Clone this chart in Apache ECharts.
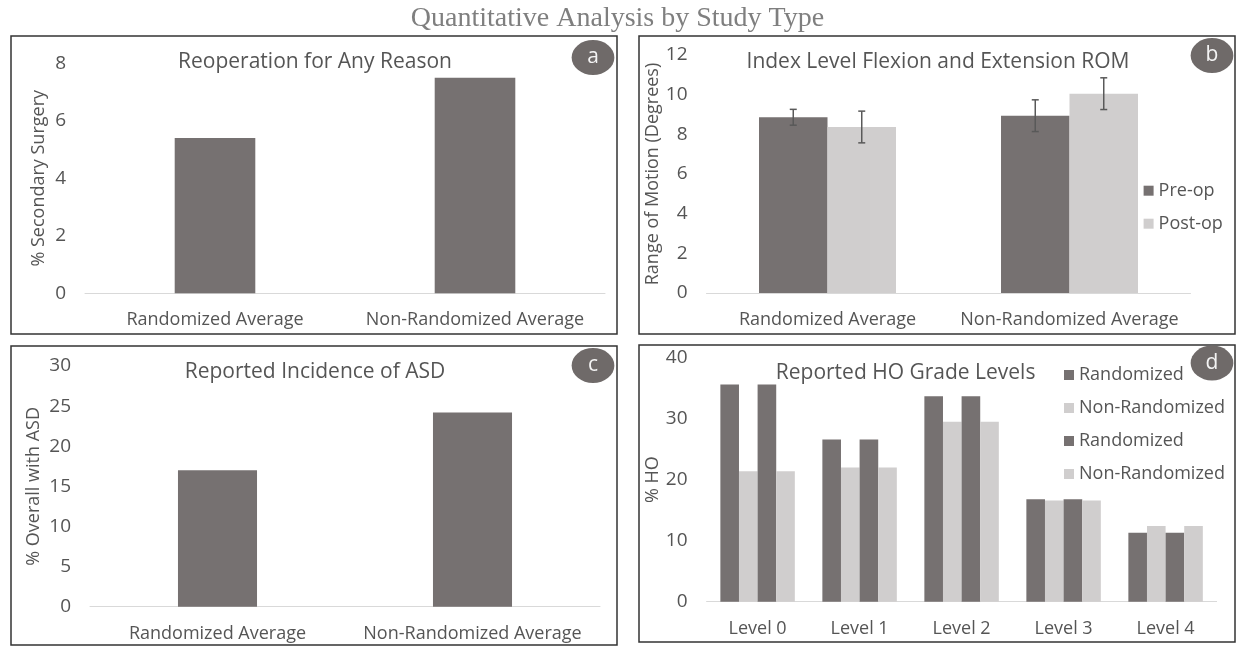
<!DOCTYPE html>
<html>
<head>
<meta charset="utf-8">
<script src="https://cdn.jsdelivr.net/npm/echarts@6/dist/echarts.min.js"></script>
<style>
  html, body { margin: 0; padding: 0; background: #fff; }
  #chart { width: 1236px; height: 646px; }
</style>
</head>
<body>
<div id="chart"></div>
<script>
// ---- data ----
const studyGroups = ['Randomized Average', 'Non-Randomized Average'];
const reoperationPct = [5.4, 7.5];            // % secondary surgery
const romPreOp = [8.86, 8.94];                // degrees
const romPostOp = [8.37, 10.05];
const romPreOpErr = [0.4, 0.8];
const romPostOpErr = [0.8, 0.8];
const asdPct = [17.0, 24.2];                  // % overall with ASD
const hoLevels = ['Level 0', 'Level 1', 'Level 2', 'Level 3', 'Level 4'];
const hoRandomized = [35.6, 26.6, 33.7, 16.8, 11.3];
const hoNonRandomized = [21.4, 22.0, 29.5, 16.6, 12.4];
const yTicks = [
  { max: 8, interval: 2 },
  { max: 12, interval: 2 },
  { max: 30, interval: 5 },
  { max: 40, interval: 10 }
];

// ---- styling ----
const FONT = '"Open Sans", sans-serif';
const TEXT = '#555555';
const DARK = '#767171';
const LIGHT = '#d0cece';
const BADGE = '#6f6a69';

const grids = [
  { left: 85, top: 63.3, width: 520, height: 230 },
  { left: 706.5, top: 55, width: 484, height: 238 },
  { left: 90, top: 366, width: 510, height: 240.7 },
  { left: 706.6, top: 357.7, width: 510, height: 244 }
].map(g => Object.assign({ outerBoundsMode: 'none', containLabel: false }, g));

const xAxes = [studyGroups, studyGroups, studyGroups, hoLevels].map((data, i) => ({
  type: 'category',
  gridIndex: i,
  data: data,
  axisLine: { lineStyle: { color: '#d9d9d9', width: 1 } },
  axisTick: { show: false },
  axisLabel: { color: TEXT, fontFamily: FONT, fontSize: 18, margin: 18, interval: 0 }
}));

const yNames = ['% Secondary Surgery', 'Range of Motion (Degrees)', '% Overall with ASD', '% HO'];
const yNameGaps = [37, 42, 47, 42];
const yAxes = yTicks.map((t, i) => ({
  type: 'value',
  gridIndex: i,
  min: 0,
  max: t.max,
  interval: t.interval,
  name: yNames[i],
  nameLocation: 'middle',
  nameRotate: 90,
  nameGap: yNameGaps[i],
  nameTextStyle: { color: TEXT, fontFamily: FONT, fontSize: 18 },
  axisLine: { show: false },
  axisTick: { show: false },
  splitLine: { show: false },
  axisLabel: { color: TEXT, fontFamily: FONT, fontSize: 19, margin: 19 }
}));

const ROM_BAR = 0.283; // bar width as a share of the category band

function errorBars(means, errs, side) {
  return {
    type: 'custom',
    xAxisIndex: 1,
    yAxisIndex: 1,
    z: 10,
    silent: true,
    data: means.map((m, i) => [i, m - errs[i], m + errs[i]]),
    encode: { x: 0, y: [1, 2] },
    renderItem: function (params, api) {
      const band = api.size([1, 0])[0];
      const shift = side * band * ROM_BAR / 2;
      const lo = api.coord([api.value(0), api.value(1)]);
      const hi = api.coord([api.value(0), api.value(2)]);
      const x = lo[0] + shift;
      const cap = 3.5;
      const style = { stroke: '#595959', lineWidth: 1.5 };
      return {
        type: 'group',
        children: [
          { type: 'line', shape: { x1: x, y1: lo[1], x2: x, y2: hi[1] }, style: style },
          { type: 'line', shape: { x1: x - cap, y1: lo[1], x2: x + cap, y2: lo[1] }, style: style },
          { type: 'line', shape: { x1: x - cap, y1: hi[1], x2: x + cap, y2: hi[1] }, style: style }
        ]
      };
    }
  };
}

function hoSeries(name, data, color) {
  return {
    type: 'bar', name: name, xAxisIndex: 3, yAxisIndex: 3, data: data,
    barGap: '0%', barCategoryGap: '27%', itemStyle: { color: color }
  };
}

const series = [
  { type: 'bar', xAxisIndex: 0, yAxisIndex: 0, data: reoperationPct, barWidth: '31%', itemStyle: { color: DARK } },
  { type: 'bar', name: 'Pre-op', xAxisIndex: 1, yAxisIndex: 1, data: romPreOp, barWidth: (ROM_BAR * 100) + '%', barGap: '0%', itemStyle: { color: DARK } },
  { type: 'bar', name: 'Post-op', xAxisIndex: 1, yAxisIndex: 1, data: romPostOp, barWidth: (ROM_BAR * 100) + '%', barGap: '0%', itemStyle: { color: LIGHT } },
  errorBars(romPreOp, romPreOpErr, -1),
  errorBars(romPostOp, romPostOpErr, 1),
  { type: 'bar', xAxisIndex: 2, yAxisIndex: 2, data: asdPct, barWidth: '31%', itemStyle: { color: DARK } },
  hoSeries('Randomized|1', hoRandomized, DARK),
  hoSeries('Non-Randomized|1', hoNonRandomized, LIGHT),
  hoSeries('Randomized|2', hoRandomized, DARK),
  hoSeries('Non-Randomized|2', hoNonRandomized, LIGHT)
];

const legendBase = {
  orient: 'vertical',
  itemWidth: 10,
  itemHeight: 10,
  itemGap: 15,
  icon: 'rect',
  padding: 0,
  selectedMode: false,
  textStyle: { color: TEXT, fontFamily: FONT, fontSize: 18, lineHeight: 18 }
};

// panel frames, corner badges and panel headings
const panels = [
  { frame: [11, 36, 606, 298], badge: [593, 57.5, 'a'], title: [315, 62, 'Reoperation for Any Reason'] },
  { frame: [639, 36, 596, 298], badge: [1212, 55.5, 'b'], title: [938, 62, 'Index Level Flexion and Extension ROM'] },
  { frame: [11, 346, 606, 299], badge: [593, 365.5, 'c'], title: [315, 372, 'Reported Incidence of ASD'] },
  { frame: [639, 345, 596, 297], badge: [1212, 363, 'd'], title: [905.6, 373, 'Reported HO Grade Levels'] }
];

const graphics = [];
panels.forEach(p => {
  graphics.push({
    type: 'rect', silent: true, z: 0,
    shape: { x: p.frame[0], y: p.frame[1], width: p.frame[2], height: p.frame[3] },
    style: { fill: 'none', stroke: '#333', lineWidth: 1.5 }
  });
  graphics.push({
    type: 'circle', silent: true, z: 5,
    x: p.badge[0], y: p.badge[1], scaleX: 1.22,
    shape: { cx: 0, cy: 0, r: 17.5 },
    style: { fill: BADGE }
  });
  graphics.push({
    type: 'text', silent: true, z: 6,
    x: p.badge[0], y: p.badge[1],
    style: { text: p.badge[2], fill: '#f4f4f4', font: '21px ' + FONT, textAlign: 'center', textVerticalAlign: 'middle' }
  });
  graphics.push({
    type: 'text', silent: true, z: 6,
    x: p.title[0], y: p.title[1],
    style: { text: p.title[2], fill: TEXT, font: '21px ' + FONT, textAlign: 'center', textVerticalAlign: 'middle' }
  });
});
graphics.push({
  type: 'text', silent: true, z: 6,
  x: 617.5, y: 19,
  style: { text: 'Quantitative Analysis by Study Type', fill: '#7f7f7f', font: '28px "Liberation Serif", "Times New Roman", serif', textAlign: 'center', textVerticalAlign: 'middle' }
});

const chart = echarts.init(document.getElementById('chart'), null, { renderer: 'canvas' });
chart.setOption({
  animation: false,
  backgroundColor: '#ffffff',
  grid: grids,
  xAxis: xAxes,
  yAxis: yAxes,
  legend: [
    Object.assign({}, legendBase, { data: ['Pre-op', 'Post-op'], left: 1143.6, top: 181.7 }),
    Object.assign({}, legendBase, {
      data: ['Randomized|1', 'Non-Randomized|1', 'Randomized|2', 'Non-Randomized|2'],
      left: 1064, top: 366,
      formatter: name => name.split('|')[0]
    })
  ],
  series: series,
  graphic: { elements: graphics }
});
</script>
</body>
</html>
